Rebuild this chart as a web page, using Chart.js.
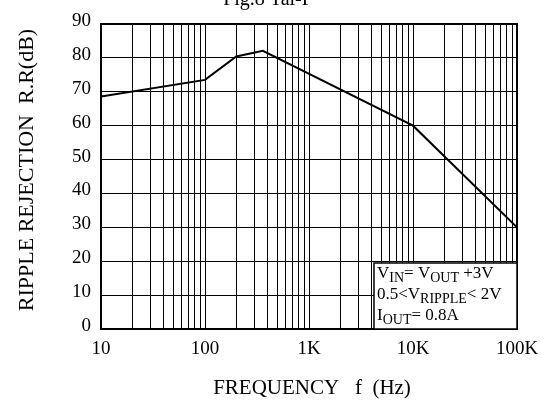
<!DOCTYPE html>
<html>
<head>
<meta charset="utf-8">
<script src="https://cdn.jsdelivr.net/npm/chart.js@4.4.1/dist/chart.umd.min.js"></script>
<style>
  html, body { margin: 0; padding: 0; background: #fff; }
  canvas { display: block; }
</style>
</head>
<body>
<canvas id="c" width="550" height="403"></canvas>
<script>
// --- data ---
const freqHz = [10, 100, 200, 360, 10000, 100000]
const rejectionDb = [68.6, 73.5, 80.4, 82.1, 60, 30]

const decades = [10, 100, 1000, 10000, 100000]
const decadeLabels = ['10', '100', '1K', '10K', '100K']
const minorSteps = [1, 2, 3, 4, 5, 6, 7, 8, 9]
const dbTicks = [0, 10, 20, 30, 40, 50, 60, 70, 80, 90]

const legendLines = [
  [['V'], ['IN', 1], ['= V'], ['OUT', 1], [' +3V']],
  [['0.5<V'], ['RIPPLE', 1], ['< 2V']],
  [['I'], ['OUT', 1], ['= 0.8A']],
]

const SERIF = '"Liberation Serif", "Times New Roman", serif'

// grid positions: 1..9 x each decade, plus the last decade
const gridFreqs = decades
  .slice(0, -1)
  .flatMap((d) => minorSteps.map((m) => m * d))
  .concat(decades[decades.length - 1])

const drawRich = (ctx, x, y, parts) => {
  parts.forEach(([t, sub]) => {
    ctx.font = `${sub ? 14 : 17}px ${SERIF}`
    ctx.fillText(t, x, sub ? y + 4 : y)
    x += ctx.measureText(t).width
  })
}

const extras = {
  id: 'extras',
  afterDraw: (chart) => {
    const { ctx, chartArea: a } = chart
    ctx.save()
    ctx.fillStyle = '#000'
    ctx.strokeStyle = '#000'

    // frame
    ctx.lineWidth = 2
    ctx.strokeRect(a.left, a.top, a.right - a.left, a.bottom - a.top)

    // figure caption, cut off at the top
    ctx.font = `20px ${SERIF}`
    ctx.textAlign = 'center'
    ctx.textBaseline = 'alphabetic'
    ctx.fillText('Fig.8 Tal-P', 268, 5)

    // x title
    ctx.font = `21px ${SERIF}`
    ctx.textBaseline = 'middle'
    ctx.fillText('FREQUENCY   f  (Hz)', 312, 388)

    // y title
    ctx.save()
    ctx.translate(27, 170)
    ctx.rotate(-Math.PI / 2)
    ctx.font = `22px ${SERIF}`
    ctx.fillText('RIPPLE REJECTION  R.R(dB)', 0, 0)
    ctx.restore()

    // condition box
    const bx = 374, by = 263, bw = a.right - 374, bh = a.bottom - 263
    ctx.fillStyle = '#fff'
    ctx.fillRect(bx, by, bw, bh)
    ctx.lineWidth = 1.5
    ctx.strokeRect(bx, by, bw, bh)
    ctx.fillStyle = '#000'
    ctx.textAlign = 'left'
    ctx.textBaseline = 'alphabetic'
    legendLines.forEach((parts, i) => drawRich(ctx, 377, 278 + i * 21, parts))

    ctx.restore()
  },
}

new Chart(document.getElementById('c'), {
  type: 'line',
  data: {
    datasets: [
      {
        data: freqHz.map((f, i) => ({ x: f, y: rejectionDb[i] })),
        borderColor: '#000',
        borderWidth: 2,
        pointRadius: 0,
        tension: 0,
        fill: false,
      },
    ],
  },
  plugins: [extras],
  options: {
    responsive: false,
    animation: false,
    layout: { padding: { top: 24, right: 33, left: 0, bottom: 0 } },
    plugins: { legend: { display: false }, tooltip: { enabled: false } },
    scales: {
      x: {
        type: 'logarithmic',
        min: 10,
        max: 100000,
        afterFit: (s) => {
          s.height = 74
        },
        afterBuildTicks: (s) => {
          s.ticks = gridFreqs.map((v) => ({ value: v }))
        },
        ticks: {
          autoSkip: false,
          maxRotation: 0,
          padding: 9,
          color: '#000',
          font: { family: SERIF, size: 19 },
          callback: (v) => {
            const i = decades.indexOf(v)
            return i >= 0 ? decadeLabels[i] : ''
          },
        },
        grid: { color: '#000', lineWidth: 1, drawTicks: false },
        border: { display: false },
      },
      y: {
        min: 0,
        max: 90,
        afterFit: (s) => {
          s.width = 101
        },
        afterBuildTicks: (s) => {
          s.ticks = dbTicks.map((v) => ({ value: v }))
        },
        ticks: {
          padding: 10,
          labelOffset: -3,
          color: '#000',
          font: { family: SERIF, size: 19 },
        },
        grid: { color: '#000', lineWidth: 1, drawTicks: false },
        border: { display: false },
      },
    },
  },
})
</script>
</body>
</html>
